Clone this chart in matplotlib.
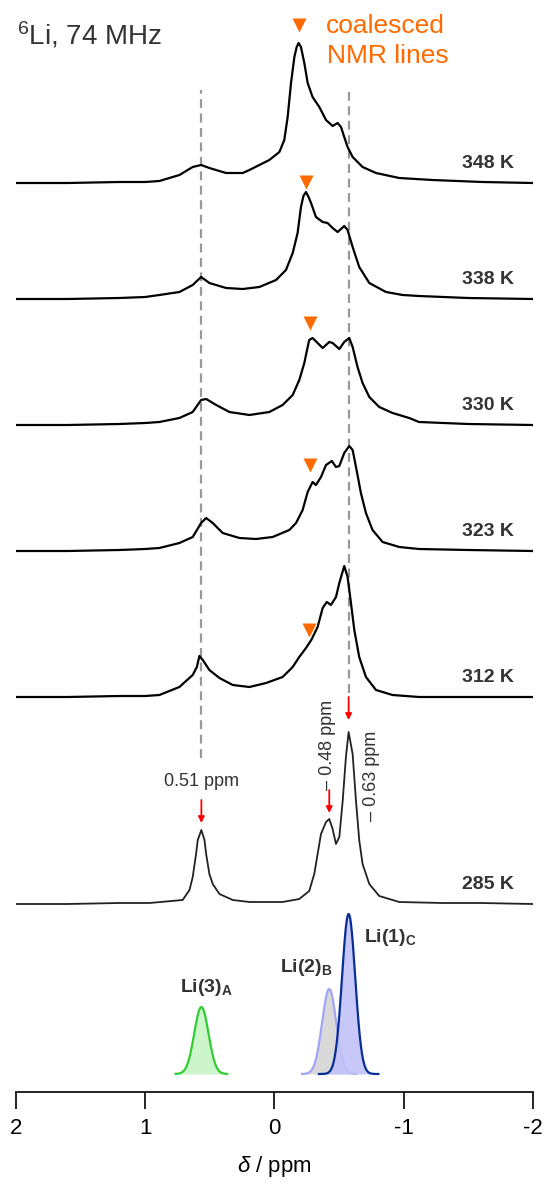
import numpy as np
import matplotlib
matplotlib.use('Agg')
import matplotlib.pyplot as plt

plt.rcParams['font.family'] = ['Liberation Sans', 'DejaVu Sans']
plt.rcParams['mathtext.fontset'] = 'custom'
plt.rcParams['mathtext.rm'] = 'Liberation Sans'
plt.rcParams['mathtext.it'] = 'Liberation Sans:italic'
plt.rcParams['mathtext.bf'] = 'Liberation Sans:bold'
plt.rcParams['axes.unicode_minus'] = False

# 6Li spectra, chemical shift (ppm) vs intensity (a.u.)
ppm_348 = [2.0, 1.6, 1.2, 1.0, 0.89, 0.735, 0.632, 0.567, 0.503, 0.374, 0.245, 0.193, 0.116, 0.039,
           -0.039, -0.077, -0.103, -0.129, -0.155, -0.173, -0.188, -0.206, -0.232, -0.258, -0.296,
           -0.348, -0.40, -0.451, -0.49, -0.516, -0.541, -0.567, -0.606, -0.683, -0.787, -0.967,
           -1.224, -1.61, -2.0]
int_348 = [0, 0, 1, 1, 2, 8, 16, 18, 15, 10, 10, 13, 18, 23,
           31, 43, 66, 100, 126, 136, 140, 136, 120, 100, 86,
           76, 63, 57, 60, 56, 46, 36, 26, 16, 10, 5,
           3, 1, 0]

ppm_338 = [2.0, 1.6, 1.2, 1.0, 0.89, 0.735, 0.632, 0.567, 0.503, 0.374, 0.245, 0.116, -0.013,
           -0.09, -0.142, -0.18, -0.206, -0.225, -0.245, -0.265, -0.284, -0.322, -0.374, -0.412,
           -0.451, -0.49, -0.541, -0.567, -0.606, -0.657, -0.735, -0.864, -0.993, -1.12, -1.5, -2.0]
int_338 = [0, 0, 1, 2, 4, 7, 14, 22, 16, 11, 10, 12, 19,
           29, 46, 66, 92, 103, 107, 102, 96, 82, 77, 76,
           71, 67, 73, 69, 52, 32, 16, 7, 4, 3, 1, 0]

ppm_330 = [2.0, 1.6, 1.2, 1.0, 0.89, 0.735, 0.632, 0.567, 0.528, 0.45, 0.348, 0.193, 0.039,
           -0.064, -0.142, -0.193, -0.232, -0.258, -0.27, -0.296, -0.335, -0.374, -0.425, -0.451,
           -0.503, -0.541, -0.58, -0.606, -0.644, -0.683, -0.735, -0.812, -0.915, -1.044, -1.12,
           -1.5, -2.0]
int_330 = [0, 0, 1, 2, 3, 7, 13, 25, 26, 20, 13, 10, 13,
           20, 30, 45, 62, 78, 85, 87, 82, 77, 83, 82,
           76, 83, 87, 78, 58, 42, 28, 18, 12, 7, 3,
           1, 0]

ppm_323 = [2.0, 1.6, 1.2, 1.0, 0.89, 0.735, 0.632, 0.567, 0.528, 0.477, 0.40, 0.27, 0.142, 0.013,
           -0.116, -0.168, -0.219, -0.258, -0.296, -0.322, -0.361, -0.40, -0.445, -0.477, -0.503,
           -0.541, -0.58, -0.606, -0.632, -0.67, -0.709, -0.76, -0.838, -0.967, -1.12, -1.5, -2.0]
int_323 = [0, 0, 1, 2, 3, 8, 14, 28, 33, 28, 18, 13, 12, 14,
           21, 28, 41, 59, 69, 66, 74, 86, 90, 84, 85,
           98, 105, 101, 84, 58, 38, 21, 9, 4, 2, 1, 0]

ppm_312 = [2.0, 1.6, 1.2, 1.0, 0.89, 0.735, 0.632, 0.60, 0.58, 0.554, 0.503, 0.425, 0.322, 0.193,
           0.064, -0.064, -0.142, -0.193, -0.245, -0.286, -0.335, -0.374, -0.406, -0.438, -0.477,
           -0.503, -0.541, -0.567, -0.593, -0.619, -0.657, -0.709, -0.787, -0.915, -1.12, -1.5, -2.0]
int_312 = [0, 0, 1, 1, 2, 10, 22, 30, 41, 37, 27, 19, 12, 10,
           14, 20, 30, 40, 49, 57, 70, 89, 95, 92, 100,
           114, 131, 120, 94, 67, 40, 20, 7, 2, 0, 0, 0]

ppm_285 = [2.0, 1.6, 1.2, 0.967, 0.71, 0.657, 0.632, 0.606, 0.593, 0.565, 0.541, 0.528, 0.503,
           0.477, 0.425, 0.322, 0.193, -0.064, -0.193, -0.27, -0.309, -0.335, -0.361, -0.40,
           -0.425, -0.451, -0.477, -0.503, -0.529, -0.554, -0.575, -0.606, -0.632, -0.657,
           -0.683, -0.735, -0.812, -0.967, -1.3, -1.6, -2.0]
int_285 = [0, 0, 1, 1, 4, 14, 27, 50, 64, 74, 64, 50, 30,
           20, 10, 4, 2, 2, 5, 13, 30, 50, 70, 82,
           85, 75, 60, 67, 103, 147, 172, 150, 103, 64,
           40, 20, 8, 2, 1, 1, 0]

temps = ['348 K', '338 K', '330 K', '323 K', '312 K', '285 K']
spectra = [(ppm_348, int_348), (ppm_338, int_338), (ppm_330, int_330),
           (ppm_323, int_323), (ppm_312, int_312), (ppm_285, int_285)]
offsets = [909, 793, 667, 541, 395, 188]

# coalesced line positions (ppm) for the high temperature spectra
coal_ppm = [-0.19, -0.245, -0.275, -0.275, -0.265]
coal_h = [158, 117, 102, 86, 67]

# Li sites at 285 K
sites = ['Li(3)$_\\mathbf{A}$', 'Li(2)$_\\mathbf{B}$', 'Li(1)$_\\mathbf{C}$']
site_shift = [0.51, -0.48, -0.63]
site_height = [67, 85, 160]
site_fwhm = [0.13, 0.13, 0.12]
ref_offset = 0.055

fig = plt.figure(figsize=(5.45, 11.85), dpi=100)
ax = fig.add_axes([16 / 545, 93 / 1185, 516.7 / 545, 1092 / 1185])
ax.set_xlim(2, -2)
ax.set_ylim(0, 1092)

pos = [s + ref_offset for s in site_shift]

# guide lines through Li(3) and Li(1)
ax.plot([pos[0], pos[0]], [334, 1002], color='#999999', lw=1.6, ls=(0, (4, 2.5)), zorder=1)
ax.plot([pos[2], pos[2]], [399, 1002], color='#999999', lw=1.6, ls=(0, (4, 2.5)), zorder=1)

for (x, y), off, t in zip(spectra, offsets, temps):
    lw = 1.3 if t == '285 K' else 1.6
    col = '#222222' if t == '285 K' else 'black'
    ax.plot(x, np.array(y) + off, color=col, lw=lw, zorder=3)
    ax.text(-1.856, off + 15, t, ha='right', va='baseline', fontsize=14,
            fontweight='bold', color='#333333')

for x, h, off in zip(coal_ppm, coal_h, offsets):
    ax.plot(x, off + h, marker='v', color='#ff6a00', ms=10, mec='none', zorder=4)

ax.text(-0.402, 1092 - 33, 'coalesced', color='#ff6a00', fontsize=19, va='baseline')
ax.text(-0.41, 1092 - 63, 'NMR lines', color='#ff6a00', fontsize=19, va='baseline')
ax.text(1.995, 1092 - 44, '$^{6}$Li, 74 MHz', color='#333333', fontsize=20, va='baseline')

# peak markers on the 285 K spectrum
arrow_tip = [81, 91, 184]
for p, tip in zip(pos, arrow_tip):
    ax.annotate('', xy=(p, offsets[5] + tip), xytext=(p, offsets[5] + tip + 23),
                arrowprops=dict(arrowstyle='-|>', color='#ff0000', lw=1.3,
                                mutation_scale=9, shrinkA=0, shrinkB=0))

ax.text(pos[0], 310, '%.2f ppm' % site_shift[0], ha='center', va='center',
        fontsize=13, color='#333333')
ax.text(-0.41, 347, '\u2013 %.2f ppm' % abs(site_shift[1]), ha='center', va='center',
        fontsize=13, color='#333333', rotation=90)
ax.text(-0.75, 316, '\u2013 %.2f ppm' % abs(site_shift[2]), ha='center', va='center',
        fontsize=13, color='#333333', rotation=90)

# fitted site components
base = 18
line_cols = ['#33cc33', '#a4a4f6', '#0a2d96']
fill_cols = ['#ccf5cc', '#d9d9d9', '#c2c2f8']
spans = [0.2, 0.21, 0.23]
for i in range(3):
    xs = np.linspace(pos[i] - spans[i], pos[i] + spans[i], 200)
    sig = site_fwhm[i] / 2.3548
    ys = site_height[i] * np.exp(-0.5 * ((xs - pos[i]) / sig) ** 2)
    ax.fill_between(xs, base, base + ys, color=fill_cols[i], alpha=0.9 if i == 2 else 1,
                    lw=0, zorder=2 + i * 0.1)
    ax.plot(xs, base + ys, color=line_cols[i], lw=1.6, zorder=2.05 + i * 0.1)

label_xy = [(0.527, 105), (-0.248, 124), (-0.9, 155)]
for s, (lx, ly) in zip(sites, label_xy):
    ax.text(lx, ly, s, ha='center', va='center', fontsize=14, fontweight='bold',
            color='#333333')

for sp in ['left', 'right', 'top']:
    ax.spines[sp].set_visible(False)
ax.spines['bottom'].set_linewidth(1.2)
ax.set_yticks([])
ax.set_xticks([2, 1, 0, -1, -2])
ax.tick_params(axis='x', direction='out', length=12.5, width=1.2, labelsize=16, pad=6)
ax.set_xlabel('$\\it{\\delta}$ / ppm', fontsize=16, labelpad=11)

fig.savefig('out.png', dpi=100)
